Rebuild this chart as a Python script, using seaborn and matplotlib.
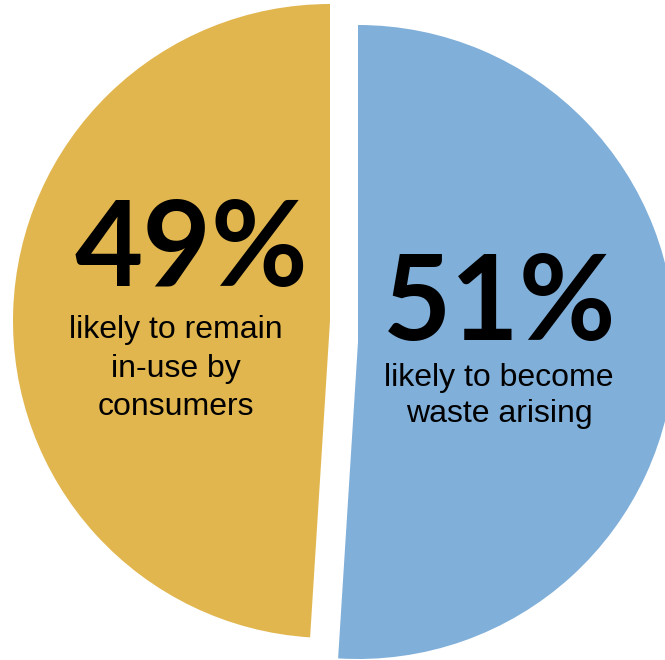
import matplotlib
matplotlib.use("Agg")
import matplotlib.pyplot as plt
import seaborn as sns

# Data
categories = ["likely to become waste arising", "likely to remain in-use by consumers"]
shares = [51, 49]
pct_labels = ["51%", "49%"]
desc_lines = [["likely to become", "waste arising"],
              ["likely to remain", "in-use by", "consumers"]]
colors = ["#80AFD9", "#E1B64F"]

sns.set_theme(style="white")
plt.rcParams['font.family'] = ['Liberation Sans', 'DejaVu Sans']

W, H = 665, 660
fig = plt.figure(figsize=(W / 100, H / 100), dpi=100)
ax = fig.add_axes([0, 0, 1, 1])

R = 317
centers = [(358, H - 342), (330, H - 321)]  # blue, yellow (exploded pieces)

for i in range(len(shares)):
    cols = ["none"] * len(shares)
    cols[i] = colors[i]
    ax.pie(shares, colors=cols, startangle=90, counterclock=False,
           radius=R, center=centers[i],
           wedgeprops=dict(linewidth=0, edgecolor="none"))

ax.set_xlim(0, W)
ax.set_ylim(0, H)
ax.set_aspect("equal", adjustable="box")
ax.axis("off")

# Big percentages
big_pos = [(500, H - 340), (191, H - 286)]
for lab, (x, y) in zip(pct_labels, big_pos):
    ax.text(x, y, lab, ha="center", va="baseline", fontsize=85,
            fontweight="bold", family=["Lato", "DejaVu Sans"], color="black")

# Descriptions
desc_x = [499, 175.5]
desc_baselines = [[386, 422], [338, 377, 415]]
for lines, x, bls in zip(desc_lines, desc_x, desc_baselines):
    for line, b in zip(lines, bls):
        ax.text(x, H - b, line, ha="center", va="baseline", fontsize=23,
                color="black")

fig.savefig("out.png", dpi=100)
